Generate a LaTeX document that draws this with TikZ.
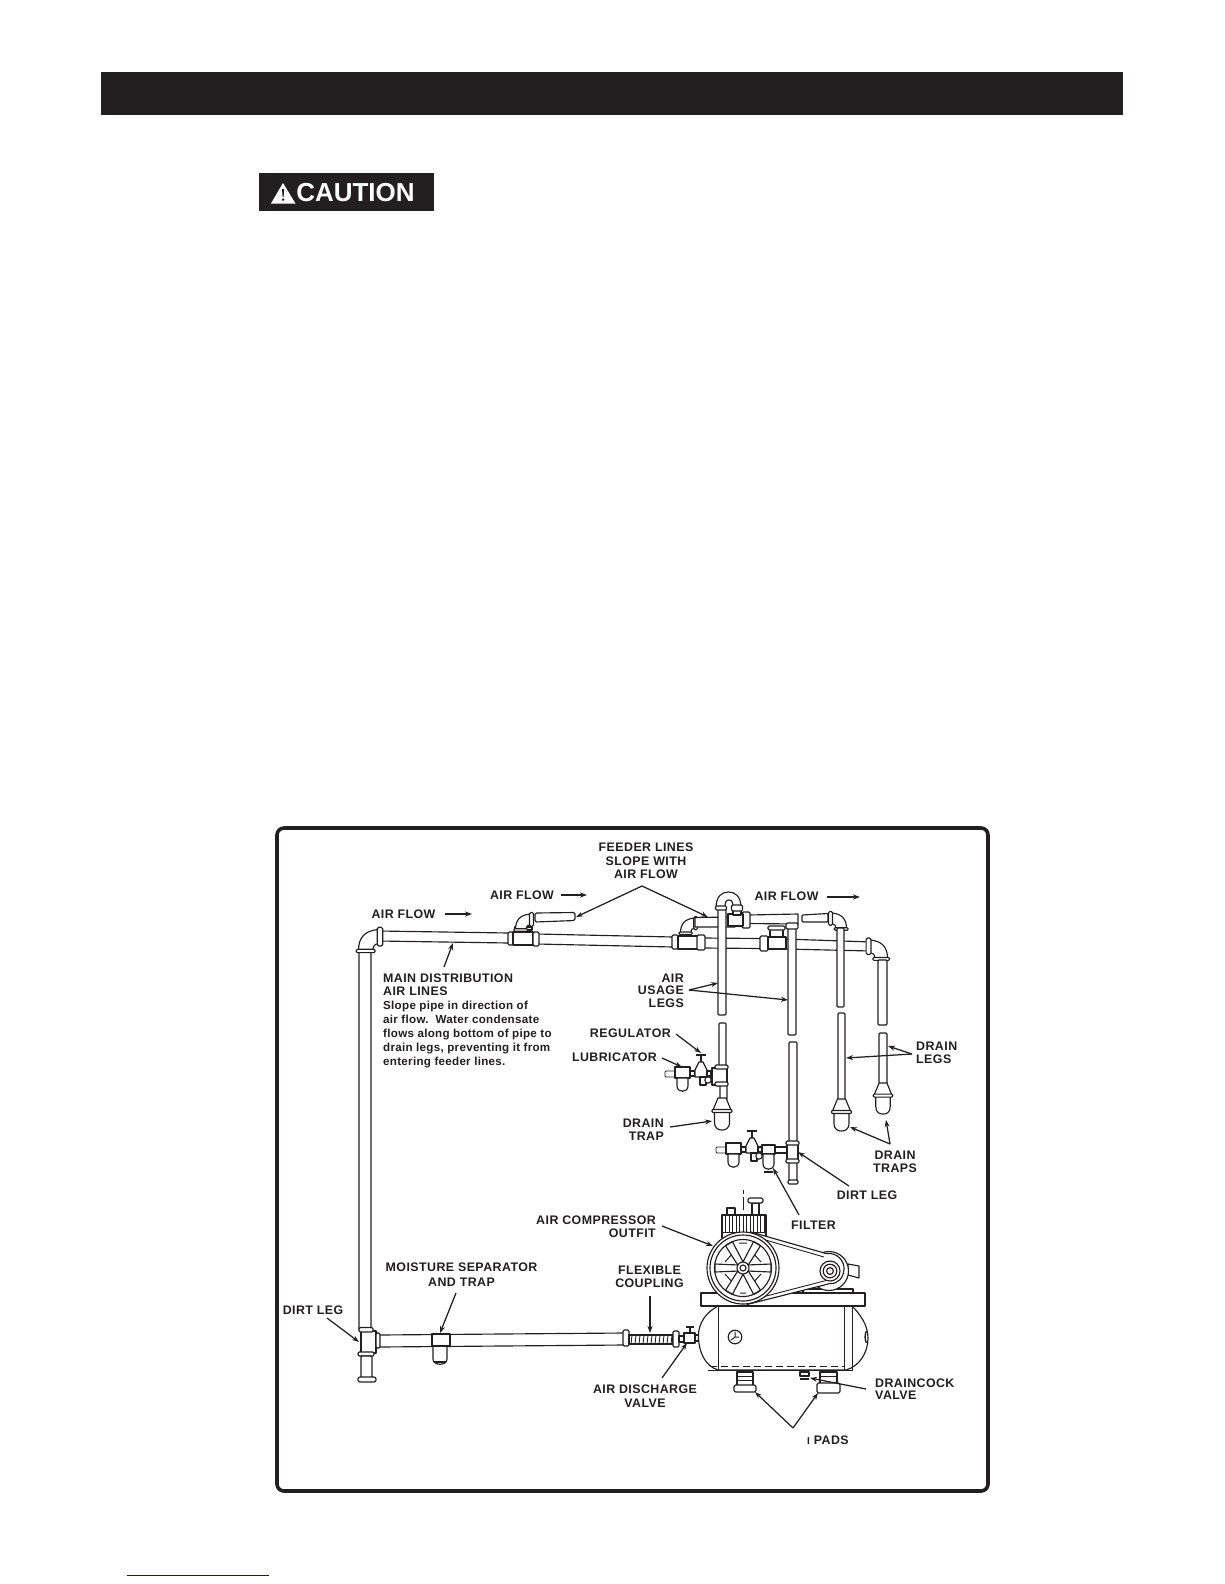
\documentclass[tikz,border=0pt]{standalone}
\usepackage{fontspec}
\setmainfont{Liberation Sans}
\newfontfamily\lblfont[LetterSpace=3.5]{Liberation Sans}
\newfontfamily\bodyfont[LetterSpace=2.5]{Liberation Sans}
\usetikzlibrary{arrows.meta}
\definecolor{ink}{HTML}{231F20}
\definecolor{linkblue}{HTML}{101090}
\tikzset{
  pipe/.style={draw=ink,fill=white,line width=1.15pt,line join=round},
  thin part/.style={draw=ink,fill=white,line width=0.9pt,line join=round},
  heavy/.style={draw=ink,line width=1.6pt},
  lbl/.style={font=\lblfont\fontsize{12.4}{14}\selectfont\bfseries,text=ink,inner sep=0pt,align=center,anchor=center},
  lbll/.style={lbl,align=left},
  lblr/.style={lbl,align=right},
  body/.style={font=\bodyfont\fontsize{11.6}{14}\selectfont\bfseries,text=ink,inner sep=0pt,anchor=base west},
  pointer/.style={draw=ink,line width=1.25pt,-{Stealth[length=7pt,width=5pt]}},
}
% vertical pipe x1 x2 y1 y2
\newcommand\vp[4]{\path[pipe,rounded corners=1pt] (#1,#3) rectangle (#2,#4);}
% collar
\newcommand\clr[4]{\path[pipe,rounded corners=1.2pt] (#1,#3) rectangle (#2,#4);}
% elbow: corner x y, xscale, scale
\newcommand\elb[4]{\begin{scope}[shift={(#1,#2)},xscale=#3*#4,yscale=#4]
  \path[pipe] (0,19) .. controls (0,7) and (6,1) .. (18,0) -- (18,13) .. controls (15,13) and (13,15) .. (13,19) -- cycle;
  \path[pipe,rounded corners=1pt] (-2,18) rectangle (15,21);
  \path[pipe,rounded corners=1.5pt] (17,-2) rectangle (22,15);
\end{scope}}
% drain trap: centre x, top y, scale
\newcommand\trp[3]{\begin{scope}[shift={(#1,#2)},scale=#3]
  \path[pipe] (-4,0) -- (4,0) -- (9,12) -- (-9,12) -- cycle;
  \path[pipe] (-7.5,14) -- (7.5,14) -- (7.5,24) .. controls (7.5,31) and (3,32) .. (0,32) .. controls (-3,32) and (-7.5,31) .. (-7.5,24) -- cycle;
  \path[pipe,rounded corners=1pt] (-10,11.5) rectangle (10,14.5);
\end{scope}}
% regulator + lubricator group: x y of the regulator's centre
\newcommand\regl[2]{\begin{scope}[shift={(#1,#2)}]
  \path[thin part,rounded corners=1pt] (-36,0) rectangle (-25,6);
  \path[pipe] (-26,-4) rectangle (-11,7);
  \path[pipe] (-24,7) -- (-13,7) -- (-13,15) .. controls (-13,22) and (-24,22) .. (-24,15) -- cycle;
  \path[pipe] (-11,0) rectangle (-6,5);
  \path[pipe] (-6,-1) -- (-2,-9) -- (2,-9) -- (6,-1) -- (6,6) -- (-6,6) -- cycle;
  \draw[ink,line width=1.1pt] (0,-9) -- (0,-16) (-5,-16) -- (5,-16);
  \path[pipe] (-1,6) rectangle (5,14);
  \path[pipe] (7,9) circle (3.2);
  \path[pipe] (6,0) rectangle (10,5);
\end{scope}}
\begin{document}
\begin{tikzpicture}[x=1pt,y=-1pt]
\useasboundingbox (0,0) rectangle (1224,1584);
\fill[white] (0,0) rectangle (1224,1584);
% banner
\fill[ink] (101,72) rectangle (1123,115);
\fill[ink] (259,173) rectangle (434,211);
\fill[white] (283,183) -- (295.5,203.5) -- (271,203.5) -- cycle;
\fill[ink] (282,189) -- (284.2,189) -- (283.6,197) -- (282.6,197) -- cycle;
\fill[ink] (283.1,199.6) circle (1.3);
\node[inner sep=0pt,text=white,font=\fontsize{26}{28}\selectfont\bfseries] (cautiontext) at (355.5,193) {CAUTION};
% frame
\draw[ink,line width=3.6pt,rounded corners=7pt] (277,828) rectangle (988,1491);
% blue line
\draw[linkblue,line width=1pt] (127,1575) -- (269,1575);

% ---- main line
\vp{359}{371}{946}{1330}
\path[pipe] (379,931) -- (509,933) -- (509,943) -- (379,941) -- cycle;
\elb{358.5}{929.5}{1}{1.1}
\path[pipe] (537,934) -- (673,937) -- (673,947) -- (537,944) -- cycle;
\path[pipe] (704,938) -- (761,938.5) -- (761,948.5) -- (704,948) -- cycle;
\path[pipe] (785,939) -- (871,942) -- (871,951) -- (785,949) -- cycle;
% first tee
\path[pipe] (515,927) -- (532,927) -- (532,930) -- (515,930) -- cycle;
\elb{515.5}{914}{1}{0.82}
\path[pipe,rounded corners=1.5pt] (535,913) -- (575,912.5) -- (575,920.5) -- (535,922) -- cycle;
\clr{508}{513}{932}{945}
\path[pipe] (513,932) rectangle (533,945);
\clr{533}{539}{932}{946}
% second tee region
\clr{672}{678}{935}{949}
\path[pipe] (678,936) rectangle (699,949);
\clr{697}{705}{935}{950}
\elb{680.5}{918}{1}{0.78}
\path[pipe] (695,917.5) -- (735,917) -- (735,927) -- (695,927) -- cycle;
% third tee region
\clr{760}{768}{936}{951}
\path[pipe] (768,937) rectangle (786,949);
\path[pipe] (770,928) rectangle (783,937);
\clr{768}{785}{926}{930}
% right elbow + drain leg
\elb{887.5}{940}{-1}{0.97}
\vp{878}{887}{960}{1025}
\vp{879}{887}{1033}{1084}
\trp{883}{1083}{0.97}
% third leg
\path[pipe,rounded corners=1pt] (802,915) -- (828,913.5) -- (828,922) -- (802,922) -- cycle;
\elb{846.5}{913}{-1}{0.82}
\vp{837}{844}{928}{1007}
\vp{838}{845}{1013}{1101}
\trp{841.5}{1099}{1}
% upper feeder
\path[pipe] (748,915) -- (798,914) -- (798,924) -- (748,923.5) -- cycle;
\clr{742}{750}{912}{928}
\path[pipe] (728,914) rectangle (743,926);
\path[pipe] (733,907) rectangle (741,915);
% second leg
\vp{788}{796}{928}{1035}
\clr{786}{798}{923}{929}
\vp{789}{797}{1042}{1144}
\vp{789}{797}{1160}{1181}
\path[pipe] (787,1144) rectangle (798,1160);
\clr{786}{799}{1141}{1145}
\clr{786}{799}{1159}{1163}
\clr{788}{798}{1180}{1184}
% first leg
\vp{718}{726}{907}{1015}
\vp{719}{726}{1023}{1068}
\vp{720}{727}{1083}{1100}
\path[pipe] (712,1068) rectangle (727,1085);
\clr{715}{728}{1065}{1069}
\clr{715}{728}{1082}{1086}
\trp{722}{1098}{1}
% inverted U
\path[pipe] (716,908) .. controls (716,896) and (722,892) .. (728.5,892) .. controls (735,892) and (741,896) .. (741,908) -- (733,908) .. controls (733,902) and (732,900) .. (729,900) .. controls (726,900) and (725,902) .. (725,908) -- cycle;
\clr{715.5}{726.5}{906}{910}
\clr{731.5}{742.5}{905}{911}
% regulators
\regl{701}{1071}
\regl{752}{1147}
\path[pipe] (762,1145) rectangle (775,1154);
\path[pipe] (763,1154) -- (774,1154) -- (774,1164) .. controls (774,1171) and (763,1171) .. (763,1164) -- cycle;
\draw[ink,line width=1.1pt] (764,1172) -- (773,1172);
\path[pipe] (775,1147) rectangle (787,1153);

% ---- bottom line
\path[pipe] (379,1335) -- (624,1333) -- (624,1345) -- (379,1347) -- cycle;
\path[pipe] (361,1331) rectangle (376,1353);
\clr{359}{373}{1327.5}{1332}
\clr{358}{374}{1352}{1356}
\clr{376}{380}{1333}{1348}
\vp{361}{372}{1356}{1378}
\path[pipe,rounded corners=2pt] (358,1377) rectangle (376,1382);
% moisture separator
\path[pipe] (433,1346) -- (447,1346) -- (447,1359) .. controls (447,1366) and (433,1366) .. (433,1359) -- cycle;
\draw[ink,line width=1.6pt] (434,1362) -- (446,1362);
\path[pipe] (432,1334) rectangle (450,1346);
% coupling
\clr{623}{629}{1330}{1346}
\path[pipe] (629,1335) rectangle (673,1344);
\foreach \hx in {632,636,...,672}{\draw[ink,line width=0.9pt] (\hx,1335) -- (\hx-1,1344);}
\clr{673}{679}{1331}{1347}
% discharge valve
\path[pipe] (679,1336) rectangle (684,1342);
\path[pipe] (684,1333) rectangle (695,1343);
\path[pipe] (695,1335) rectangle (699,1341);
\draw[ink,line width=1.1pt] (690,1333) -- (690,1327) (686,1327) -- (694,1327);

% ---- tank
\path[pipe] (718,1306) .. controls (700,1316) and (698,1330) .. (698.5,1338) .. controls (699,1352) and (705,1366) .. (718,1370) -- (846,1370) .. controls (860,1366) and (868,1352) .. (868,1338) .. controls (868,1325) and (860,1314) .. (852,1306) -- cycle;
\draw[ink,line width=1pt] (718,1306) -- (718,1370) (844,1306) -- (844,1370) (852,1306) -- (852,1370);
\draw[ink,line width=1pt,dash pattern=on 7pt off 4pt] (710,1366) -- (845,1366);
\draw[heavy] (708,1370.5) -- (853,1370.5);
\draw[ink,line width=1.4pt] (866.3,1331) .. controls (864.7,1335) and (864.7,1339) .. (866.3,1343);
\path[pipe] (735,1337) circle (6.8);
\draw[ink,line width=1pt] (735,1337) -- (735,1331.5) (735,1337) -- (731,1340) (735,1337) -- (739,1337);
% pads and draincock
\path[pipe] (737,1372) rectangle (753,1386);
\draw[ink,line width=1pt] (737,1376) -- (753,1376) (737,1380) -- (753,1380);
\path[pipe,rounded corners=1.5pt] (734,1385) rectangle (756,1392);
\path[pipe] (820,1372) rectangle (837,1384);
\draw[ink,line width=1pt] (820,1376) -- (837,1376);
\path[pipe,rounded corners=1.5pt] (817,1383) rectangle (840,1393);
\path[pipe] (800,1372) rectangle (809,1376);
\draw[ink,line width=1.3pt] (800,1379) -- (809,1379);
% platform
\path[pipe] (701,1293) rectangle (865,1306);
% motor
\path[pipe] (803,1289) rectangle (853,1293);
\path[pipe] (848,1264) -- (859,1266) -- (859,1278) -- (848,1275) -- cycle;
\path[pipe] (829,1271) circle (19.5);
% cylinder heads
\path[pipe] (722,1215) rectangle (766,1238);
\foreach \fx in {725.5,729,...,764}{\draw[ink,line width=1pt] (\fx,1215) -- (\fx,1232);}
\draw[ink,line width=1pt] (722,1232) -- (766,1232);
\path[pipe] (727,1208) rectangle (735,1215);
\path[pipe] (752,1203) rectangle (759,1215);
\path[pipe,rounded corners=2pt] (748,1198) rectangle (763,1203);
\draw[ink,line width=0.9pt] (743,1190) -- (743,1194) (743,1197) -- (743,1210);
% belt
\path[pipe] (751,1232) -- (826,1253.5) .. controls (838,1252) and (844.5,1262) .. (844,1269) .. controls (843.5,1278) and (838,1284) .. (830,1283.5) -- (747,1304.5) -- cycle;
\draw[ink,line width=0.9pt] (750,1235.5) -- (824,1257) (747,1301) -- (826,1280.5);
\path[pipe] (830,1271) circle (10);
\path[pipe] (830,1271) circle (6.8);
\path[pipe] (830,1271) circle (3.4);
% flywheel
\path[pipe] (743,1268) circle (36);
\path[pipe] (743,1268) circle (33);
\path[pipe] (743,1268) circle (28.5);
\draw[ink,line width=1pt] (733,1253) -- (725,1262) (753,1253) -- (761,1262) (733,1283) -- (725,1274) (753,1283) -- (761,1274) (739,1243) -- (747,1243) (740,1293) -- (746,1293);
\foreach \ang in {0,60,...,300}{
  \begin{scope}[rotate around={\ang:(743,1268)}]
    \path[pipe] (747,1265) -- (771,1264) -- (771,1272) -- (747,1271) -- cycle;
  \end{scope}}
\path[pipe] (743,1268) circle (6);
\path[pipe] (743,1268) circle (3);

% ---- labels
\node[lbl] (feeder) at (646,861) {FEEDER LINES\\[-0.6pt]SLOPE WITH\\[-0.6pt]AIR FLOW};
\node[lbl] (flowa) at (403.5,914) {AIR FLOW};
\node[lbl] (flowb) at (522,895) {AIR FLOW};
\node[lbl] (flowc) at (786.5,896) {AIR FLOW};
\node[lbl,anchor=west] (mainlab) at (383,978) {MAIN DISTRIBUTION};
\node[lbl,anchor=west] (mainlabb) at (383,991.5) {AIR LINES};
\node[body] (bodya) at (383,1009.5) {Slope pipe in direction of};
\node[body] (bodyb) at (383,1023.5) {air flow.\ \ Water condensate};
\node[body] (bodyc) at (383,1037.5) {flows along bottom of pipe to};
\node[body] (bodyd) at (383,1051.5) {drain legs, preventing it from};
\node[body] (bodye) at (383,1065.5) {entering feeder lines.};
\node[lblr,anchor=east] (usage) at (684,990.5) {AIR\\[-1.6pt]USAGE\\[-1.6pt]LEGS};
\node[lbl,anchor=east] (regul) at (671,1033) {REGULATOR};
\node[lbl,anchor=east] (lubri) at (657,1057) {LUBRICATOR};
\node[lblr,anchor=east] (dtrap) at (664,1129.5) {DRAIN\\[-0.6pt]TRAP};
\node[lbll,anchor=west] (dlegs) at (916,1052.5) {DRAIN\\[-0.6pt]LEGS};
\node[lbl] (dtraps) at (895,1162) {DRAIN\\[-0.6pt]TRAPS};
\node[lbl] (dirtr) at (867,1195) {DIRT LEG};
\node[lbl] (filt) at (813.5,1225) {FILTER};
\node[lblr,anchor=east] (outfit) at (656,1227) {AIR COMPRESSOR\\[-0.6pt]OUTFIT};
\node[lbl] (moist) at (461.5,1274.5) {MOISTURE SEPARATOR\\[0.4pt]AND TRAP};
\node[lbl] (flex) at (649.5,1277) {FLEXIBLE\\[-0.6pt]COUPLING};
\node[lbl] (dirtl) at (313,1310) {DIRT LEG};
\node[lbl] (disch) at (645,1396) {AIR DISCHARGE\\[-0.6pt]VALVE};
\node[lbll,anchor=west] (dcock) at (875,1389) {DRAINCOCK\\[-1.6pt]VALVE};
\node[lbl,anchor=west] (pads) at (807,1440) {\fontsize{10}{10}\selectfont I\fontsize{12.4}{14}\selectfont\ PADS};

% ---- connector ends
\coordinate (fa0) at (445,914); \coordinate (fa1) at (472,914);
\coordinate (fb0) at (561,895); \coordinate (fb1) at (587,895);
\coordinate (fc0) at (827,897); \coordinate (fc1) at (860,897);
\coordinate (feedapex) at (642,886);
\coordinate (feedl) at (576,917); \coordinate (feedr) at (708,917);
\coordinate (main0) at (444,967); \coordinate (main1) at (453,943);
\coordinate (useapex) at (689,990);
\coordinate (usel) at (718,983); \coordinate (user) at (788,1000);
\coordinate (reg0) at (676,1034); \coordinate (reg1) at (701,1053);
\coordinate (lub0) at (662,1058); \coordinate (lub1) at (682,1067);
\coordinate (dt0) at (670,1127); \coordinate (dt1) at (712,1121);
\coordinate (dlapex) at (912,1054);
\coordinate (dll) at (846,1058); \coordinate (dlr) at (888,1046);
\coordinate (dtsapex) at (890,1144);
\coordinate (dtsl) at (850,1127); \coordinate (dtsr) at (886,1120);
\coordinate (dr0) at (849,1186); \coordinate (dr1) at (798,1152);
\coordinate (fi0) at (799,1215); \coordinate (fi1) at (773,1168);
\coordinate (ou0) at (662,1226); \coordinate (ou1) at (713,1246);
\coordinate (mo0) at (456,1293); \coordinate (mo1) at (440,1333);
\coordinate (dl0) at (327,1318); \coordinate (dl1) at (359,1342);
\coordinate (fl0) at (650,1296); \coordinate (fl1) at (650,1333);
\coordinate (av0) at (662,1378); \coordinate (av1) at (687,1343);
\coordinate (dc0) at (866,1389); \coordinate (dc1) at (810,1378);
\coordinate (paapex) at (793,1428);
\coordinate (pal) at (755,1392); \coordinate (par) at (818,1393);

\foreach \ca/\cb in {fa0/fa1,fb0/fb1,fc0/fc1,feedapex/feedl,feedapex/feedr,main0/main1,useapex/usel,useapex/user,reg0/reg1,lub0/lub1,dt0/dt1,dlapex/dll,dlapex/dlr,dtsapex/dtsl,dtsapex/dtsr,dr0/dr1,fi0/fi1,ou0/ou1,mo0/mo1,dl0/dl1,fl0/fl1,av0/av1,dc0/dc1,paapex/pal,paapex/par}{
  \draw[pointer] (\ca) -- (\cb);
}
\end{tikzpicture}
\end{document}
